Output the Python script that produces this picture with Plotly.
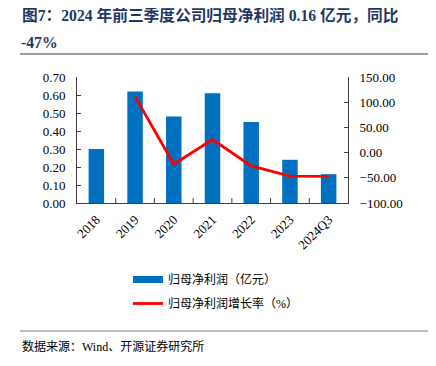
import plotly.graph_objects as go

categories = ["2018", "2019", "2020", "2021", "2022", "2023", "2024Q3"]
profit = [0.30, 0.62, 0.48, 0.61, 0.45, 0.24, 0.16]
growth = [None, 111.0, -23.0, 26.0, -26.5, -46.5, -47.0]

left_ticks = [0.0, 0.1, 0.2, 0.3, 0.4, 0.5, 0.6, 0.7]
right_ticks = [-100, -50, 0, 50, 100, 150]

OFF = 8  # page body margin
W, H = 420, 350
L, T = 77 - OFF, 77 - OFF
PW, PH = 271, 126
R, B = W - L - PW, H - T - PH


def px(x):
    return (x - OFF - L) / PW


def py(y):
    return (T + PH - (y - OFF)) / PH


serif = "Liberation Serif, Noto Sans CJK SC, serif"
cjk = "Liberation Serif, Noto Sans CJK SC"
axis_col = "#404040"

fig = go.Figure()
fig.add_trace(go.Bar(
    x=categories, y=profit, name="归母净利润（亿元）",
    marker=dict(color="#0070C0", line=dict(width=0)),
    width=0.4, showlegend=False, yaxis="y",
))
fig.add_trace(go.Scatter(
    x=[None], y=[None], mode="lines", name="归母净利润（亿元）",
    line=dict(color="#0070C0", width=7), legendgroup="a", yaxis="y",
))
fig.add_trace(go.Scatter(
    x=categories, y=growth, mode="lines", name="归母净利润增长率（%）",
    line=dict(color="#FF0000", width=2.8), legendgroup="b", yaxis="y2",
    connectgaps=False,
))

fig.update_layout(
    width=W, height=H,
    margin=dict(l=L, r=R, t=T, b=B, autoexpand=False),
    paper_bgcolor="white", plot_bgcolor="white",
    font=dict(family=serif, size=13, color="#000000"),
    xaxis=dict(
        type="category", showline=True, linecolor=axis_col, linewidth=1,
        ticks="", tickangle=-45, tickfont=dict(size=13, family=serif),
        showgrid=False, zeroline=False, ticklabelstandoff=3,
    ),
    yaxis=dict(
        range=[0, 0.7], tickvals=left_ticks, tickformat=".2f",
        showline=True, linecolor=axis_col, linewidth=1,
        ticks="inside", ticklen=4, tickcolor=axis_col,
        showgrid=False, zeroline=False, tickfont=dict(size=13, family=serif),
        ticklabelstandoff=8,
    ),
    yaxis2=dict(
        range=[-100, 150], tickvals=right_ticks, tickformat=".2f",
        overlaying="y", side="right",
        showline=True, linecolor=axis_col, linewidth=1,
        ticks="inside", ticklen=4, tickcolor=axis_col,
        showgrid=False, zeroline=False, tickfont=dict(size=13, family=serif),
        ticklabelstandoff=8,
    ),
    legend=dict(
        x=px(128), y=py(265), xanchor="left", yanchor="top",
        traceorder="grouped", tracegroupgap=5,
        font=dict(size=12, family=cjk, color="#000000"),
        bgcolor="rgba(0,0,0,0)",
    ),
    showlegend=True,
)

# category boundary ticks on the x axis (inside)
for i in range(1, len(categories)):
    fig.add_shape(type="line", xref="x", yref="paper",
                  x0=i - 0.5, x1=i - 0.5, y0=0, y1=5 / PH,
                  line=dict(color=axis_col, width=1))

title_col = "#1F3864"
fig.add_annotation(
    xref="paper", yref="paper", x=px(21), y=py(15), xanchor="left", yanchor="middle",
    text="<b>图7：2024 年前三季度公司归母净利润 0.16 亿元，同比</b>", showarrow=False,
    font=dict(size=15.7, family=serif, color=title_col), borderpad=0,
)
fig.add_annotation(
    xref="paper", yref="paper", x=px(20), y=py(42), xanchor="left", yanchor="middle",
    text="<b>-47%</b>", showarrow=False,
    font=dict(size=15.7, family=serif, color=title_col), borderpad=0,
)
fig.add_shape(type="line", xref="paper", yref="paper",
              x0=px(20), x1=px(428), y0=py(54), y1=py(54),
              line=dict(color="#7F7F7F", width=1.5))
fig.add_shape(type="line", xref="paper", yref="paper",
              x0=px(20), x1=px(428), y0=py(331), y1=py(331),
              line=dict(color="#7F7F7F", width=1.2))
fig.add_annotation(
    xref="paper", yref="paper", x=px(20), y=py(346), xanchor="left", yanchor="middle",
    text="数据来源：Wind、开源证券研究所", showarrow=False,
    font=dict(size=12, family=cjk, color="#000000"),
)

fig.write_html("out.html")
